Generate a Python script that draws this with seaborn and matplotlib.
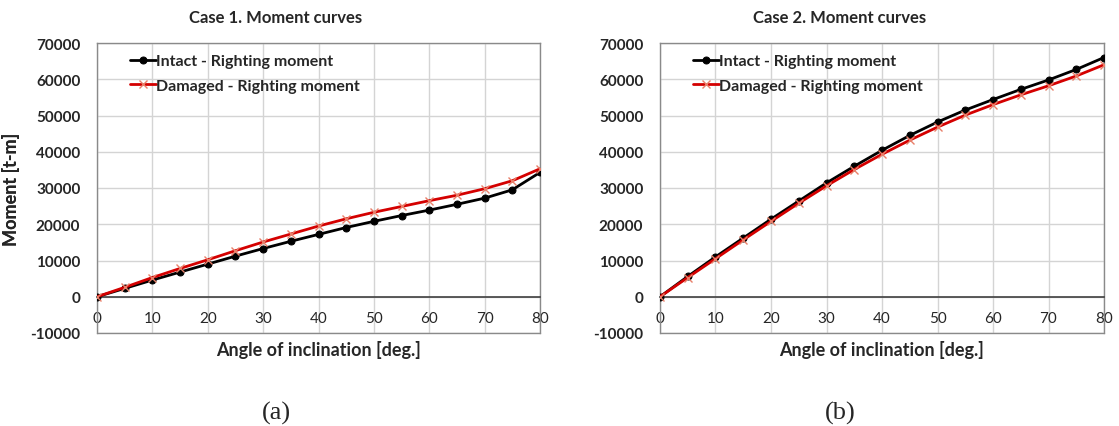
import matplotlib
matplotlib.use("Agg")
import matplotlib.pyplot as plt
import seaborn as sns
import pandas as pd
import numpy as np

angles = [0, 5, 10, 15, 20, 25, 30, 35, 40, 45, 50, 55, 60, 65, 70, 75, 80]

case1_intact = [0, 2300, 4600, 6800, 9000, 11200, 13300, 15300, 17200, 19100,
                20800, 22400, 23900, 25500, 27200, 29500, 34300]
case1_damaged = [0, 2600, 5300, 7800, 10200, 12700, 15100, 17300, 19500, 21500,
                 23300, 24900, 26500, 28000, 29800, 32000, 35300]

case2_intact = [0, 5600, 11000, 16200, 21400, 26400, 31400, 36000, 40400, 44500,
                48200, 51500, 54400, 57200, 59800, 62700, 66000]
case2_damaged = [0, 5300, 10500, 15700, 20800, 25800, 30600, 35100, 39300, 43200,
                 46800, 50100, 53000, 55700, 58200, 60900, 64000]

titles = ["Case 1. Moment curves", "Case 2. Moment curves"]
captions = ["(a)", "(b)"]
series_names = ["Intact - Righting moment", "Damaged - Righting moment"]
xlabel = "Angle of inclination [deg.]"
ylabel = "Moment [t-m]"
xticks = [0, 10, 20, 30, 40, 50, 60, 70, 80]
yticks = [-10000, 0, 10000, 20000, 30000, 40000, 50000, 60000, 70000]

sns.set_theme(style="white")
plt.rcParams['font.family'] = ['Lato', 'DejaVu Sans']

W, H = 1119, 427
fig = plt.figure(figsize=(W / 100, H / 100), dpi=100)
# pixel boxes (left, right, top, bottom)
boxes = [(97, 540, 44, 334), (660, 1104, 44, 334)]

data = [(case1_intact, case1_damaged), (case2_intact, case2_damaged)]
center_x = [276, 840]

for i, (intact, damaged) in enumerate(data):
    l, r, t, b = boxes[i]
    ax = fig.add_axes([l / W, 1 - b / H, (r - l) / W, (b - t) / H])
    df = pd.DataFrame({
        "angle": angles * 2,
        "moment": list(intact) + list(damaged),
        "series": [series_names[0]] * len(angles) + [series_names[1]] * len(angles),
    })
    ax.grid(True, color="#d4d4d4", linewidth=1.0, zorder=0)
    sns.lineplot(data=df[df.series == series_names[0]], x="angle", y="moment",
                 ax=ax, color="black", linewidth=2.0, marker="o", markersize=5,
                 markeredgecolor="black", label=series_names[0], zorder=3)
    sns.lineplot(data=df[df.series == series_names[1]], x="angle", y="moment",
                 ax=ax, color="#d40000", linewidth=2.0, marker="x", markersize=6,
                 markeredgecolor="#e8806a", markeredgewidth=1.0,
                 label=series_names[1], zorder=4)
    ax.set_xlim(0, 80)
    ax.set_ylim(-10000, 70000)
    ax.set_xticks(xticks)
    ax.set_yticks(yticks)
    ax.set_xticklabels([str(tk) for tk in xticks], fontweight="bold", fontsize=11)
    ax.set_yticklabels([str(tk) for tk in yticks], fontweight="bold", fontsize=11)
    ax.spines['bottom'].set_position(('data', 0))
    ax.spines['bottom'].set_color('#404040')
    ax.spines['bottom'].set_linewidth(1.2)
    for s in ['top', 'left', 'right']:
        ax.spines[s].set_color('#8a8a8a')
        ax.spines[s].set_linewidth(1.0)
    ax.axhline(-10000, color='#8a8a8a', linewidth=1.0, clip_on=False, zorder=5)
    ax.tick_params(axis='x', length=0, pad=10)
    ax.tick_params(axis='y', length=0, pad=12)
    ax.set_xlabel("")
    ax.set_ylabel(ylabel, fontweight="bold", fontsize=13)
    ax.yaxis.set_label_coords((20 - l) / (r - l), 0.5)
    ax.text(0.5, -(350 - b) / (b - t), xlabel, transform=ax.transAxes,
            ha="center", va="center", fontweight="bold", fontsize=13)
    fig.text(center_x[i] / W, 1 - 18 / H, titles[i], ha="center", va="center",
             fontweight="bold", fontsize=12)
    ax.legend(loc="upper left", frameon=False, prop={"weight": "bold", "size": 11.5},
              handlelength=1.6, handletextpad=0.0, labelspacing=0.65,
              bbox_to_anchor=(0.05, 1.0), borderaxespad=0.3)
    fig.text(center_x[i] / W, 1 - 413 / H, captions[i], ha="center", va="center",
             fontsize=19, family=["Liberation Serif", "DejaVu Serif"])

fig.savefig("out.png", dpi=100)
